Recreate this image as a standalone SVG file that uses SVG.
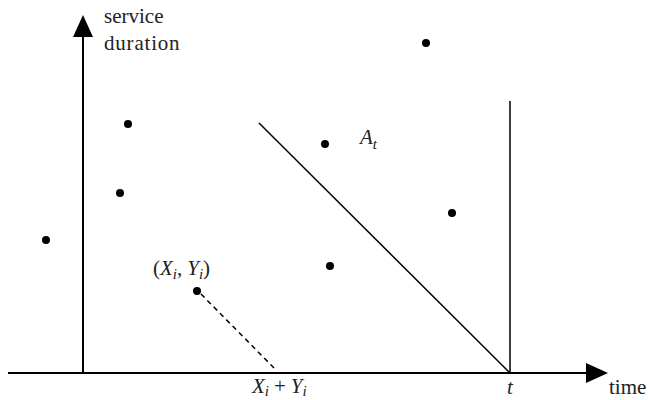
<svg xmlns="http://www.w3.org/2000/svg" width="650" height="400" viewBox="0 0 650 400">
<style>
.ax{stroke:#000;stroke-width:2;fill:none}
.ln{stroke:#000;stroke-width:1.5;fill:none}
.dash{stroke:#000;stroke-width:1.5;stroke-dasharray:5,4;fill:none}
.pt{fill:#000}
.t{font-family:'Liberation Serif','Times New Roman',serif;font-size:21px;fill:#222}
.it{font-style:italic}
</style>
<rect width="650" height="400" fill="#fff"/>
<g id="axes">
<line class="ax" x1="83" y1="373" x2="83" y2="34"/>
<polygon points="83,15 73,37 93,37"/>
<line class="ax" x1="8" y1="373" x2="588" y2="373"/>
<polygon points="608,373 586,363 586,383"/>
</g>
<g id="connectors">
<line class="ln" x1="510" y1="101" x2="510" y2="373"/>
<line class="ln" x1="259" y1="123" x2="510" y2="373"/>
<line class="dash" x1="201" y1="294" x2="276" y2="370"/>
</g>
<g id="points">
<circle class="pt" cx="46" cy="240" r="4"/>
<circle class="pt" cx="128" cy="124" r="4"/>
<circle class="pt" cx="120" cy="193" r="4"/>
<circle class="pt" cx="325" cy="144" r="4"/>
<circle class="pt" cx="426" cy="43" r="4"/>
<circle class="pt" cx="452" cy="213" r="4"/>
<circle class="pt" cx="330" cy="266" r="4"/>
<circle class="pt" cx="197" cy="291" r="4"/>
</g>
<g id="labels">
<text class="t" x="104" y="23" font-size="22">service</text>
<text class="t" x="104" y="50" font-size="22" letter-spacing="0.8">duration</text>
<text class="t it" x="360" y="144">A<tspan font-size="15" dy="5">t</tspan></text>
<text class="t" x="153" y="275">(<tspan class="it">X<tspan font-size="15" dy="4">i</tspan></tspan><tspan dy="-4">,</tspan><tspan class="it" dx="5">Y<tspan font-size="15" dy="4">i</tspan></tspan><tspan dy="-4">)</tspan></text>
<text class="t" x="252" y="393"><tspan class="it">X<tspan font-size="15" dy="3">i</tspan></tspan><tspan dy="-3" dx="5">+</tspan><tspan class="it" dx="5">Y<tspan font-size="15" dy="3">i</tspan></tspan></text>
<text class="t it" x="507" y="394">t</text>
<text class="t" x="609" y="394">time</text>
</g>
</svg>
